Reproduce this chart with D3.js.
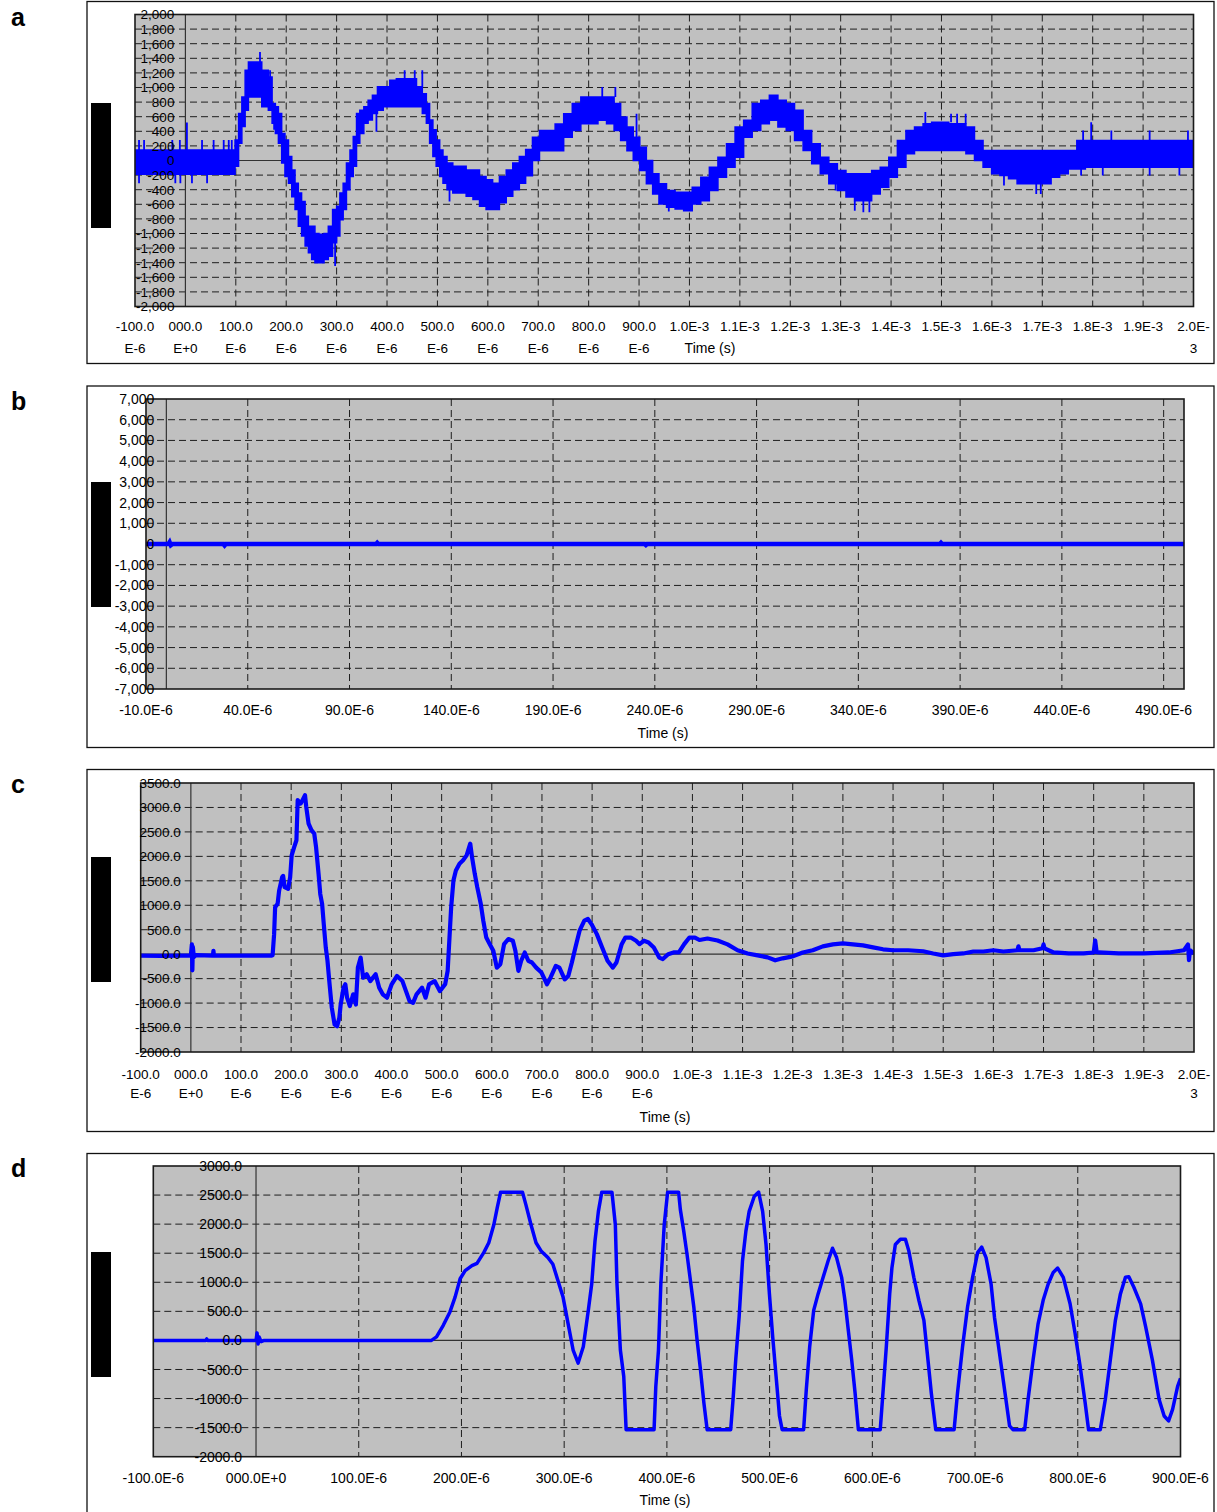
<!DOCTYPE html>
<html>
<head>
<meta charset="utf-8">
<script src="https://cdn.jsdelivr.net/npm/d3@7"></script>
<style>
  body { margin: 0; background: #fff; }
  svg { display: block; }
  text { font-family: Arial, "Liberation Sans", sans-serif; fill: #000; }
</style>
</head>
<body>
<svg id="fig" width="1217" height="1512"></svg>
<script>
// ---------- panel a: noisy oscillation, drawn as a min/max band plus isolated spikes (time in µs) ----------
const aTimeUs = [-100,-50,0,50,95,102,109,115,122,128,138,148,155,161,168,176,181,188,194,201,208,214,221,227,234,241,247,254,260,270,280,287,297,303,310,316,323,330,336,343,349,359,366,376,386,399,412,425,438,452,465,475,481,488,494,501,508,514,524,537,550,564,577,590,603,616,630,643,656,669,681,696,709,725,742,759,776,793,810,827,844,857,870,882,895,908,921,933,946,963,980,997,1014,1031,1048,1065,1082,1099,1116,1133,1150,1167,1184,1200,1217,1234,1251,1268,1285,1302,1319,1336,1353,1370,1387,1404,1421,1438,1455,1472,1489,1506,1523,1540,1557,1574,1591,1608,1624,1642,1658,1675,1692,1709,1726,1743,1760,1777,1794,1850,1900,1950,2000];
const aLow = [-190,-190,-190,-190,-190,-80,235,465,690,870,870,870,735,735,690,510,370,235,-35,-220,-310,-495,-670,-900,-1035,-1170,-1265,-1355,-1400,-1400,-1355,-1310,-1125,-1035,-810,-670,-400,-220,-80,235,370,510,555,645,690,735,735,735,735,735,735,645,510,235,55,-80,-220,-310,-400,-445,-445,-490,-535,-625,-670,-670,-580,-490,-400,-310,-210,0,135,135,135,320,410,505,505,550,505,410,275,135,0,-137,-320,-458,-595,-640,-665,-687,-595,-550,-410,-230,-92,45,320,410,505,550,460,410,275,137,-45,-183,-320,-410,-500,-550,-550,-458,-365,-230,-92,92,137,137,137,137,137,137,92,0,-92,-183,-205,-250,-320,-320,-320,-320,-230,-183,-115,-115,-92,-92,-92,-92,-92];
const aHigh = [145,145,145,145,145,280,645,870,1235,1350,1350,1350,1235,1235,1145,780,735,645,370,280,55,-130,-310,-445,-560,-765,-900,-900,-1000,-1010,-1000,-900,-670,-625,-445,-310,-35,145,330,645,690,735,825,895,1010,1010,1100,1120,1120,1120,1010,915,780,555,420,280,145,55,-35,-80,-80,-130,-130,-220,-265,-310,-220,-130,-35,55,150,320,410,410,500,640,780,870,870,870,870,780,595,460,320,183,0,-183,-320,-410,-435,-435,-365,-230,-92,45,230,460,550,780,825,893,825,780,690,410,230,45,-45,-137,-183,-183,-183,-137,-92,45,275,410,460,505,525,525,505,505,460,275,137,137,137,137,137,137,137,137,137,137,137,275,275,275,275,275,275];
const aSpikeTimeUs = [-92,-82,-26,-11,3,33,56,76,86,92,-92,-20,-10,13,43,148,168,176,297,379,435,455,470,524,827,853,895,959,1290,1328,1345,1357,1468,1519,1531,1548,1624,1688,1697,1777,1781,1797,1820,1837,1913,1913,1972,1989];
const aSpikeFrom = [145,145,145,145,145,145,145,145,145,145,-190,-190,-190,-190,-190,1350,1145,510,-1125,645,1120,1120,1010,-400,870,870,320,-600,-320,-550,-550,-550,505,525,505,505,-205,-320,-320,-115,275,275,-92,275,275,-92,-92,275];
const aSpikeTo = [280,280,280,280,520,280,280,280,280,280,-310,-310,-310,-310,-310,1485,1235,420,-1445,395,1235,1235,1235,-560,1008,1008,640,-700,-412,-687,-710,-710,665,640,640,640,-343,-458,-458,-206,410,525,-206,410,410,-206,-206,410];
const aXTickUs = [-100,0,100,200,300,400,500,600,700,800,900,1000,1100,1200,1300,1400,1500,1600,1700,1800,1900,2000];
const aXTickLabels = [["-100.0","E-6"],["000.0","E+0"],["100.0","E-6"],["200.0","E-6"],["300.0","E-6"],["400.0","E-6"],["500.0","E-6"],["600.0","E-6"],["700.0","E-6"],["800.0","E-6"],["900.0","E-6"],["1.0E-3"],["1.1E-3"],["1.2E-3"],["1.3E-3"],["1.4E-3"],["1.5E-3"],["1.6E-3"],["1.7E-3"],["1.8E-3"],["1.9E-3"],["2.0E-","3"]];
const aYTicks = [-2000,-1800,-1600,-1400,-1200,-1000,-800,-600,-400,-200,0,200,400,600,800,1000,1200,1400,1600,1800,2000];
const aYTickLabels = ["-2,000","-1,800","-1,600","-1,400","-1,200","-1,000","-800","-600","-400","-200","0","200","400","600","800","1,000","1,200","1,400","1,600","1,800","2,000"];

// ---------- panel b: flat trace around zero ----------
const bTimeUs = [-10,1,1.6,2.2,3,28,28.6,29.2,103,103.6,104.2,235,235.6,236.2,380,380.6,381.2,500];
const bValue = [0,0,90,-60,0,0,-70,0,0,60,0,0,-50,0,0,60,0,0];
const bXTickUs = [-10,40,90,140,190,240,290,340,390,440,490];
const bXTickLabels = ["-10.0E-6","40.0E-6","90.0E-6","140.0E-6","190.0E-6","240.0E-6","290.0E-6","340.0E-6","390.0E-6","440.0E-6","490.0E-6"];
const bYTicks = [-7000,-6000,-5000,-4000,-3000,-2000,-1000,0,1000,2000,3000,4000,5000,6000,7000];
const bYTickLabels = ["-7,000","-6,000","-5,000","-4,000","-3,000","-2,000","-1,000","0","1,000","2,000","3,000","4,000","5,000","6,000","7,000"];

// ---------- panel c: damped transient ----------
const cTimeUs = [-100,-60,-20,0,2,3,4,6,10,44,45,46,100,160,163,166,168,173,176,182,184,187,194,198,201,206,210.5,213,219,222.6,227.6,230,234.7,240.4,246,249.6,254.6,258,261.7,265,269,272.4,276,281,286.6,291.6,296,298.7,304.4,308,311.5,317,323.6,329,333,338.5,343.5,350.6,357.7,368.4,375.5,382.6,391,400.4,411,421.8,428.9,436,443,450,461,468,475,486,496.4,507,512,516.4,519,523.5,528.4,535.6,542.7,549.8,557,560.5,566,571,578,583,589,596,603,610,617,624.5,633,642,647,653,658.6,665.7,672.8,680,688.5,699,710,717,727.6,734.7,745.4,752.5,759.6,766.7,775,784.5,791.6,798.7,809.4,820,830.7,841.4,848.5,859,866.3,877,887.6,894.7,903.3,912.5,923,933.8,941,951.6,962.3,973,983.6,994,1005,1014,1030,1050,1070,1090,1110,1130,1150,1165,1180,1200,1220,1240,1260,1280,1300,1320,1340,1360,1380,1400,1430,1460,1480,1500,1520,1540,1560,1580,1600,1620,1648,1650,1652,1680,1698,1700,1702,1720,1750,1780,1800,1803,1806,1810,1850,1900,1950,1980,1988,1990,1992,2000];
const cValue = [-30,-35,-30,-30,200,-330,150,-60,-20,-30,70,-30,-30,-30,-20,410,960,1030,1300,1575,1600,1370,1335,1575,2020,2190,2330,3150,3080,3150,3250,3015,2670,2535,2465,2190,1645,1230,1030,615,135,-135,-550,-1095,-1440,-1475,-1300,-1030,-685,-615,-890,-1060,-820,-1030,-275,-70,-480,-410,-550,-410,-685,-820,-890,-615,-445,-550,-755,-960,-995,-820,-685,-890,-615,-550,-755,-615,-340,480,960,1505,1710,1850,1920,2020,2260,1990,1645,1370,1030,685,340,205,70,-275,-205,205,310,275,70,-340,-135,35,-135,-170,-275,-375,-615,-480,-240,-275,-515,-445,-170,135,480,685,720,615,410,135,-135,-275,-170,205,340,340,275,205,275,240,135,-70,-100,0,35,35,205,340,340,290,320,280,200,80,15,-25,-65,-125,-85,-45,35,80,160,200,220,200,180,140,100,80,80,60,15,-25,0,15,55,55,80,55,80,160,80,80,120,200,120,35,15,15,35,280,40,35,15,15,35,80,200,-120,80,15];
const cXTickUs = aXTickUs;
const cXTickLabels = aXTickLabels;
const cYTicks = [-2000,-1500,-1000,-500,0,500,1000,1500,2000,2500,3000,3500];
const cYTickLabels = ["-2000.0","-1500.0","-1000.0","-500.0","0.0","500.0","1000.0","1500.0","2000.0","2500.0","3000.0","3500.0"];

// ---------- panel d: clipped oscillation ----------
const dTimeUs = [-100,-49,-48,-47,0,1,2,3,5,8,170.8,175.7,182.3,188.8,193.8,198.7,203.6,210.2,215.1,221.7,226.6,231.5,234.8,238.1,259.4,262.7,267.7,272.6,277.5,284.1,289,293.9,298.9,303.8,308.7,313.6,318.6,323.5,326.8,330,333.3,336.6,346.5,349.8,351.4,354.7,358,360.3,387.5,389.2,391.8,394.1,397.4,400.7,411.4,413.1,416.4,419.6,422.9,426.2,429.4,432.7,436,439.2,462.1,464.4,467,470.3,473.6,476.9,480.1,485,488.3,489.3,493.2,496.5,499.8,503,506.3,509.6,512.2,533.1,535.7,539,542.9,547.2,552.1,557,561.2,565.2,570.1,573.3,576.6,579.9,583.2,586.4,607.7,610.3,613.6,616.9,619.1,622.4,627.3,632.2,635.5,640.4,645.3,650.2,653.5,657.4,661.7,679.6,682.9,687.8,692.7,697.6,702.5,706.5,710.7,715.6,718.9,723.8,728.7,733.6,736.9,748.3,751.6,756.5,761.4,766.3,771.2,776.1,780.4,785.9,792.5,797.4,802.3,807.2,810.5,821.9,826.8,831.7,836.6,841.5,846.4,849.7,854.6,861.2,866.1,872.6,879.2,884.1,888.4,892.3,897.2,900];
const dValue = [0,0,25,0,0,130,-60,60,-20,0,0,60,260,490,745,1060,1200,1285,1325,1510,1680,1990,2280,2550,2550,2335,1990,1680,1540,1425,1310,1030,745,290,-165,-390,-110,517,970,1710,2220,2550,2550,1990,970,-165,-620,-1535,-1535,-790,-165,970,1990,2550,2550,2250,1880,1480,1030,575,5,-505,-1075,-1535,-1535,-1015,-335,400,1370,1880,2220,2475,2535,2550,2220,1650,800,60,-620,-1300,-1535,-1535,-845,-110,517,800,1085,1370,1585,1425,1085,690,175,-335,-905,-1535,-1535,-905,-110,800,1255,1650,1740,1740,1540,1085,690,345,-220,-905,-1535,-1535,-905,-110,575,1085,1510,1605,1425,970,400,-220,-845,-1470,-1535,-1535,-1015,-335,290,690,970,1170,1245,1085,630,120,-450,-1075,-1535,-1535,-1015,-335,345,800,1085,1095,915,630,235,-335,-1015,-1300,-1385,-1185,-790,-650];
const dXTickUs = [-100,0,100,200,300,400,500,600,700,800,900];
const dXTickLabels = ["-100.0E-6","000.0E+0","100.0E-6","200.0E-6","300.0E-6","400.0E-6","500.0E-6","600.0E-6","700.0E-6","800.0E-6","900.0E-6"];
const dYTicks = [-2000,-1500,-1000,-500,0,500,1000,1500,2000,2500,3000];
const dYTickLabels = ["-2000.0","-1500.0","-1000.0","-500.0","0.0","500.0","1000.0","1500.0","2000.0","2500.0","3000.0"];

const axisTitle = "Time (s)";
const BLUE = "#0000ff";

const svg = d3.select("#fig");
const defs = svg.append("defs");

function drawPanel(o) {
  const g = svg.append("g");
  const x = d3.scaleLinear().domain(o.xDomain).range([o.left, o.right]);
  const y = d3.scaleLinear().domain(o.yDomain).range([o.bottom, o.top]);

  // outer frame and panel letter
  g.append("rect")
    .attr("x", 87).attr("y", o.frameTop)
    .attr("width", 1127).attr("height", o.frameBottom - o.frameTop)
    .attr("fill", "#fff").attr("stroke", "#111").attr("stroke-width", 1.3);
  g.append("text").attr("x", 11).attr("y", o.letterY)
    .attr("font-size", 25).attr("font-weight", "bold").text(o.letter);

  // redacted axis title block
  g.append("rect").attr("x", 91).attr("y", o.blockTop).attr("width", 20).attr("height", 125).attr("fill", "#000");

  // plot area
  g.append("rect").attr("x", o.left).attr("y", o.top)
    .attr("width", o.right - o.left).attr("height", o.bottom - o.top).attr("fill", "#c0c0c0");

  // dashed grid
  const grid = g.append("g").attr("stroke", "#1e1e1e").attr("stroke-width", 1).attr("stroke-dasharray", "7,4");
  o.yTicks.forEach(v => {
    if (v === 0 || v === o.yDomain[0] || v === o.yDomain[1]) return;
    grid.append("line").attr("x1", o.left).attr("x2", o.right).attr("y1", y(v)).attr("y2", y(v));
  });
  o.xGrid.forEach(t => {
    grid.append("line").attr("x1", x(t)).attr("x2", x(t)).attr("y1", o.top).attr("y2", o.bottom);
  });

  // solid zero axes
  g.append("line").attr("x1", o.left).attr("x2", o.right).attr("y1", y(0)).attr("y2", y(0))
    .attr("stroke", "#333").attr("stroke-width", 1.2);
  g.append("line").attr("x1", x(0)).attr("x2", x(0)).attr("y1", o.top).attr("y2", o.bottom)
    .attr("stroke", "#333").attr("stroke-width", 1.2);

  // data, clipped to the plot area
  const clipId = "clip-" + o.letter;
  defs.append("clipPath").attr("id", clipId).append("rect")
    .attr("x", o.left).attr("y", o.top).attr("width", o.right - o.left).attr("height", o.bottom - o.top);
  const dg = g.append("g").attr("clip-path", `url(#${clipId})`);
  o.draw(dg, x, y);

  // plot border
  g.append("rect").attr("x", o.left).attr("y", o.top)
    .attr("width", o.right - o.left).attr("height", o.bottom - o.top)
    .attr("fill", "none").attr("stroke", "#1a1a1a").attr("stroke-width", 1.6);

  // y tick labels beside the axis that crosses at t = 0
  o.yTicks.forEach((v, i) => {
    g.append("text").attr("x", x(0) - o.yGap).attr("y", y(v)).attr("dy", "0.36em")
      .attr("text-anchor", "end").attr("font-size", o.yFont).text(o.yLabels[i]);
  });

  // x tick labels (possibly wrapped over two lines)
  o.xTicks.forEach((t, i) => {
    const lines = Array.isArray(o.xLabels[i]) ? o.xLabels[i] : [o.xLabels[i]];
    lines.forEach((s, k) => {
      g.append("text").attr("x", x(t)).attr("y", o.xRows[k])
        .attr("text-anchor", "middle").attr("font-size", o.xFont).text(s);
    });
  });

  g.append("text").attr("x", o.titleX).attr("y", o.titleY)
    .attr("text-anchor", "middle").attr("font-size", 14).text(axisTitle);
}

// a
drawPanel({
  letter: "a", letterY: 26, frameTop: 1.5, frameBottom: 363.5, blockTop: 103,
  left: 135, right: 1193.5, top: 14.5, bottom: 306.5,
  xDomain: [-100, 2000], yDomain: [-2000, 2000],
  yTicks: aYTicks, yLabels: aYTickLabels, yGap: 11, yFont: 13.5,
  xTicks: aXTickUs, xLabels: aXTickLabels, xRows: [331, 353], xFont: 13.5,
  xGrid: aXTickUs.filter(t => t !== 0 && t !== -100 && t !== 2000),
  titleX: 710, titleY: 353,
  draw: (g, x, y) => {
    const band = aTimeUs.map((t, i) => ({ t, lo: aLow[i], hi: aHigh[i] }));
    g.append("path").datum(band)
      .attr("d", d3.area().x(d => x(d.t)).y0(d => y(d.lo)).y1(d => y(d.hi)).curve(d3.curveStep))
      .attr("fill", BLUE).attr("stroke", BLUE).attr("stroke-width", 1.5);
    g.selectAll("line.spike").data(aSpikeTimeUs).join("line").attr("class", "spike")
      .attr("x1", d => x(d)).attr("x2", d => x(d))
      .attr("y1", (d, i) => y(aSpikeFrom[i])).attr("y2", (d, i) => y(aSpikeTo[i]))
      .attr("stroke", BLUE).attr("stroke-width", 1.8);
  }
});

// b
drawPanel({
  letter: "b", letterY: 410, frameTop: 386, frameBottom: 747.5, blockTop: 482,
  left: 146, right: 1184, top: 399, bottom: 689,
  xDomain: [-10, 500], yDomain: [-7000, 7000],
  yTicks: bYTicks, yLabels: bYTickLabels, yGap: 12, yFont: 14,
  xTicks: bXTickUs, xLabels: bXTickLabels, xRows: [714.5], xFont: 14,
  xGrid: bXTickUs.filter(t => t !== -10),
  titleX: 663, titleY: 738,
  draw: (g, x, y) => {
    g.append("path").datum(bTimeUs.map((t, i) => [t, bValue[i]]))
      .attr("d", d3.line().x(d => x(d[0])).y(d => y(d[1])))
      .attr("fill", "none").attr("stroke", BLUE).attr("stroke-width", 4.5);
  }
});

// c
drawPanel({
  letter: "c", letterY: 793, frameTop: 769.5, frameBottom: 1131.5, blockTop: 857,
  left: 140.7, right: 1194, top: 783, bottom: 1052,
  xDomain: [-100, 2000], yDomain: [-2000, 3500],
  yTicks: cYTicks, yLabels: cYTickLabels, yGap: 10, yFont: 13.5,
  xTicks: cXTickUs, xLabels: cXTickLabels, xRows: [1078.5, 1098], xFont: 13.5,
  xGrid: cXTickUs.filter(t => t !== 0 && t !== -100 && t !== 2000),
  titleX: 665, titleY: 1122,
  draw: (g, x, y) => {
    g.append("path").datum(cTimeUs.map((t, i) => [t, cValue[i]]))
      .attr("d", d3.line().x(d => x(d[0])).y(d => y(d[1])))
      .attr("fill", "none").attr("stroke", BLUE).attr("stroke-width", 4.2)
      .attr("stroke-linejoin", "round");
  }
});

// d
drawPanel({
  letter: "d", letterY: 1177, frameTop: 1153.5, frameBottom: 1520, blockTop: 1252,
  left: 153.3, right: 1180.5, top: 1166, bottom: 1456.7,
  xDomain: [-100, 900], yDomain: [-2000, 3000],
  yTicks: dYTicks, yLabels: dYTickLabels, yGap: 14, yFont: 14,
  xTicks: dXTickUs, xLabels: dXTickLabels, xRows: [1482.5], xFont: 14,
  xGrid: dXTickUs.filter(t => t !== 0 && t !== -100 && t !== 900),
  titleX: 665, titleY: 1505,
  draw: (g, x, y) => {
    g.append("path").datum(dTimeUs.map((t, i) => [t, dValue[i]]))
      .attr("d", d3.line().x(d => x(d[0])).y(d => y(d[1])))
      .attr("fill", "none").attr("stroke", BLUE).attr("stroke-width", 3.5)
      .attr("stroke-linejoin", "round");
  }
});
</script>
</body>
</html>
